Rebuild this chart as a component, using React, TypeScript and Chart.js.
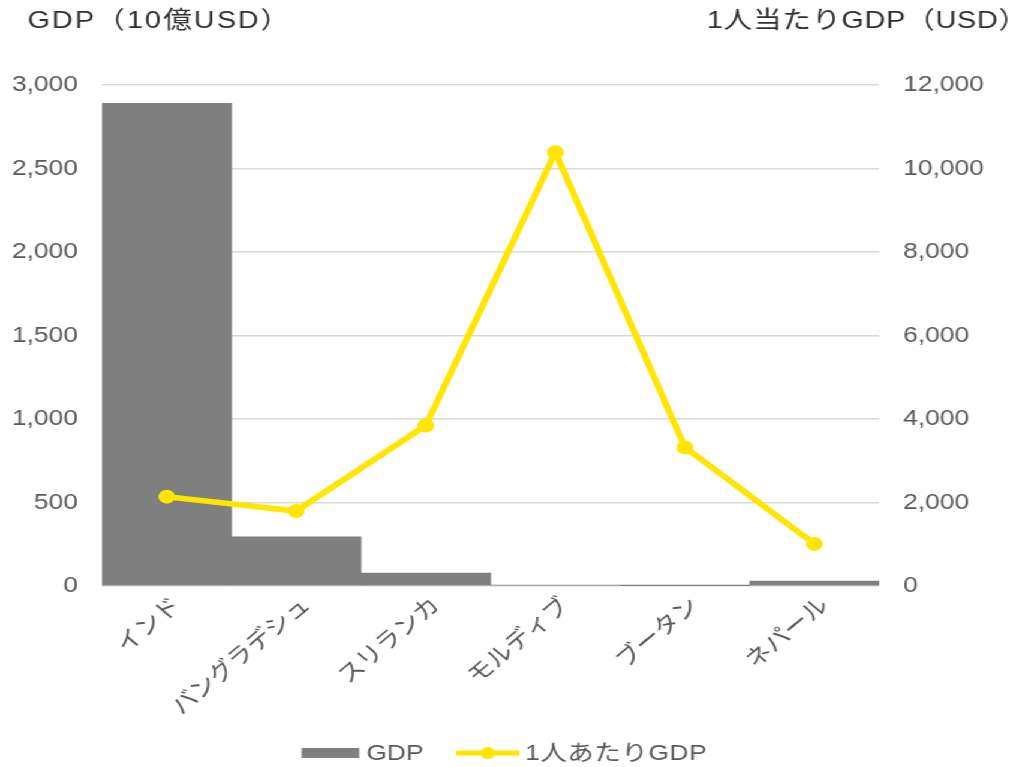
import React, { useEffect, useRef } from 'react';
import { Chart, registerables } from 'chart.js';

Chart.register(...registerables);

// ---- data ----
const countries = ['インド', 'バングラデシュ', 'スリランカ', 'モルディブ', 'ブータン', 'ネパール'];
const gdpBillionUsd = [2890, 295, 78, 5.6, 2.5, 30];
const gdpPerCapitaUsd = [2140, 1796, 3845, 10390, 3320, 1008];

const gdpAxisTitle = 'GDP（10億USD）';
const perCapitaAxisTitle = '1人当たりGDP（USD）';
const gdpSeriesLabel = 'GDP';
const perCapitaSeriesLabel = '1人あたりGDP';

const gdpAxisMax = 3000;
const gdpAxisStep = 500;
const perCapitaAxisMax = 12000;
const perCapitaAxisStep = 2000;

// ---- look ----
const FONT = '"Liberation Sans", Arial, "Noto Sans CJK JP", sans-serif';
const BAR_GRAY = '#7f7f7f';
const LINE_YELLOW = '#ffe500';
const TICK_COLOR = '#595959';
const TITLE_COLOR = '#2f2f2f';
const GRID_COLOR = '#d9d9d9';

// The chart is laid out on a narrower canvas and widened horizontally.
const PAGE_W = 1016;
const PAGE_H = 767;
const BASE_W = 847;
const SCALE_X = PAGE_W / BASE_W;

const fmt = (v: number | string) => Number(v).toLocaleString('en-US');

const headerAndLegend = {
  id: 'headerAndLegend',
  afterDraw(chart: Chart) {
    const ctx = chart.ctx as CanvasRenderingContext2D & { letterSpacing?: string };
    ctx.save();

    // axis headings
    ctx.font = `24px ${FONT}`;
    ctx.fillStyle = TITLE_COLOR;
    ctx.textBaseline = 'middle';
    ctx.textAlign = 'left';
    ctx.letterSpacing = '1.7px';
    ctx.fillText(gdpAxisTitle, 23, 21);
    ctx.textAlign = 'right';
    ctx.letterSpacing = '0.6px';
    ctx.fillText(perCapitaAxisTitle, 857, 21);
    ctx.letterSpacing = '0px';

    // legend
    const y = 753;
    ctx.font = `22px ${FONT}`;
    ctx.textAlign = 'left';

    let x = 251.5;
    ctx.fillStyle = BAR_GRAY;
    ctx.fillRect(x, y - 5, 48, 10);
    x += 48 + 6;
    ctx.fillStyle = TICK_COLOR;
    ctx.fillText(gdpSeriesLabel, x, y + 1);
    x += ctx.measureText(gdpSeriesLabel).width + 27;

    ctx.strokeStyle = LINE_YELLOW;
    ctx.lineWidth = 5;
    ctx.beginPath();
    ctx.moveTo(x, y);
    ctx.lineTo(x + 53, y);
    ctx.stroke();
    ctx.fillStyle = LINE_YELLOW;
    ctx.beginPath();
    ctx.arc(x + 26.5, y, 6, 0, Math.PI * 2);
    ctx.fill();
    x += 53 + 4.5;
    ctx.fillStyle = TICK_COLOR;
    ctx.letterSpacing = '0.5px';
    ctx.fillText(perCapitaSeriesLabel, x, y + 1);

    ctx.restore();
  },
};

export default function App() {
  const canvasRef = useRef<HTMLCanvasElement | null>(null);

  useEffect(() => {
    const canvas = canvasRef.current;
    if (!canvas) return;
    Chart.defaults.font.family = FONT;

    const chart = new Chart(canvas, {
      type: 'bar',
      data: {
        labels: countries,
        datasets: [
          {
            type: 'line',
            label: perCapitaSeriesLabel,
            data: gdpPerCapitaUsd,
            yAxisID: 'yPerCapita',
            borderColor: LINE_YELLOW,
            backgroundColor: LINE_YELLOW,
            borderWidth: 5.5,
            pointRadius: 7,
            pointBorderWidth: 0,
            pointBackgroundColor: LINE_YELLOW,
            tension: 0,
            order: 0,
          },
          {
            type: 'bar',
            label: gdpSeriesLabel,
            data: gdpBillionUsd,
            yAxisID: 'yGdp',
            backgroundColor: BAR_GRAY,
            barPercentage: 1,
            categoryPercentage: 1,
            order: 1,
          },
        ],
      } as any,
      options: {
        responsive: false,
        animation: false,
        devicePixelRatio: 1,
        layout: { padding: { top: 85, bottom: 51, left: 0, right: 0 } },
        plugins: {
          legend: { display: false },
          tooltip: { enabled: false },
        },
        scales: {
          x: {
            grid: { display: false, drawTicks: false },
            border: { display: false },
            ticks: {
              color: TICK_COLOR,
              font: { size: 22, family: FONT },
              minRotation: 45,
              maxRotation: 45,
              autoSkip: false,
              padding: 7,
              labelOffset: 9,
            },
            afterFit: (s: any) => {
              s.height = 130;
            },
          },
          yGdp: {
            position: 'left',
            min: 0,
            max: gdpAxisMax,
            ticks: {
              stepSize: gdpAxisStep,
              padding: 20,
              color: TICK_COLOR,
              font: { size: 22, family: FONT },
              callback: (v: any) => fmt(v),
            },
            grid: { color: GRID_COLOR, lineWidth: 1.6, drawTicks: false },
            border: { display: false },
            afterFit: (s: any) => {
              s.width = 85;
            },
          },
          yPerCapita: {
            position: 'right',
            min: 0,
            max: perCapitaAxisMax,
            ticks: {
              stepSize: perCapitaAxisStep,
              padding: 20,
              color: TICK_COLOR,
              font: { size: 22, family: FONT },
              callback: (v: any) => fmt(v),
            },
            grid: { display: false, drawTicks: false },
            border: { display: false },
            afterFit: (s: any) => {
              s.width = 114;
            },
          },
        },
      } as any,
      plugins: [headerAndLegend],
    });

    return () => chart.destroy();
  }, []);

  return (
    <div
      style={{
        position: 'absolute',
        left: 0,
        top: 0,
        width: BASE_W,
        height: PAGE_H,
        transform: `scaleX(${SCALE_X})`,
        transformOrigin: '0 0',
        background: '#ffffff',
      }}
    >
      <canvas ref={canvasRef} width={BASE_W} height={PAGE_H} />
    </div>
  );
}
